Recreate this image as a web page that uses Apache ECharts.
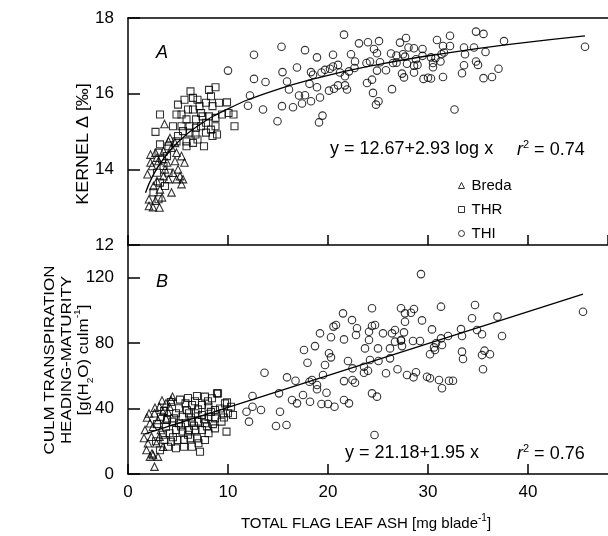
<!DOCTYPE html>
<html>
<head>
<meta charset="utf-8">
<script src="https://cdn.jsdelivr.net/npm/echarts@6/dist/echarts.min.js"></script>
<style>html,body{margin:0;padding:0;background:#fff;}#c{width:608px;height:536px;}</style>
</head>
<body>
<div id="c"></div>
<script>
// ---- data ----
var seriesNames = ['Breda', 'THR', 'THI'];
var xRange = [0, 48];
var xTicks = [0, 10, 20, 30, 40];
var yRangeA = [12, 18];
var yTicksA = [12, 14, 16, 18];
var yRangeB = [0, 140];
var yTicksB = [0, 40, 80, 120];

// Panel A: kernel Δ (‰)
var topBreda = [[3.65,15.2],[4.2,14.83],[4.35,13.39],[5.35,13.61],[2.1,13.03],[3.15,12.99],[1.95,13.87],[2.4,14.09],[2.25,14.39],[2.75,14.44],[3.55,14.48],[4.35,14.57],[4.85,14.44],[5.35,14.35],[5.65,14.18],[5.0,14.0],[4.5,13.91],[4.05,13.74],[3.55,13.82],[2.9,13.69],[2.55,13.56],[2.1,13.21],[2.75,13.17],[2.25,14.18],[3.05,14.22],[3.9,14.18],[4.7,14.22],[5.2,13.82],[4.7,14.7],[4.05,14.74],[2.9,14.31],[3.7,14.0],[3.2,13.47],[4.85,13.74],[5.5,13.74],[2.5,13.0],[3.4,13.26]];
var topTHR = [[3.2,15.45],[2.75,14.99],[6.25,16.06],[5.65,15.84],[5.0,15.71],[6.5,15.89],[6.95,15.84],[7.15,15.67],[6.0,15.58],[5.35,15.45],[4.85,15.45],[5.85,15.32],[6.8,15.32],[7.45,15.4],[8.1,16.1],[8.75,16.17],[8.3,15.93],[7.8,15.76],[8.45,15.67],[9.1,15.76],[9.9,15.77],[10.05,15.49],[10.55,15.45],[9.4,15.45],[8.75,15.36],[8.1,15.4],[7.8,15.23],[7.3,15.14],[6.8,15.1],[6.15,15.14],[5.5,15.01],[5.0,14.88],[5.85,14.74],[6.5,14.7],[6.95,14.79],[7.8,14.97],[8.3,15.05],[8.75,15.14],[8.9,14.92],[8.45,14.88],[7.6,14.61],[5.85,14.61],[10.65,15.14],[6.5,15.58],[7.3,15.49],[6.75,14.92],[6.15,14.97],[5.35,15.14],[4.5,15.14],[4.85,14.74],[3.2,14.66],[3.05,14.44],[3.4,14.26],[3.9,14.35],[3.55,14.09],[2.9,13.91],[4.05,13.91],[3.2,13.65],[2.55,13.39],[3.05,13.21],[4.05,14.61],[3.7,13.56]];
var topTHI = [[10.0,16.61],[12.6,17.03],[15.35,17.24],[12.6,16.39],[13.75,16.31],[15.45,16.57],[15.9,16.32],[16.9,16.69],[17.7,17.15],[18.9,16.96],[20.5,17.03],[21.6,17.56],[23.1,17.33],[22.3,17.04],[24.0,17.36],[25.1,17.39],[24.6,17.18],[24.9,17.07],[26.3,17.06],[26.5,16.81],[25.8,16.62],[24.9,16.61],[24.2,16.85],[23.85,16.81],[22.7,16.85],[22.65,16.68],[22.1,16.59],[21.7,16.46],[21.0,16.76],[20.5,16.72],[20.2,16.66],[19.7,16.63],[19.35,16.56],[18.3,16.57],[18.5,16.5],[18.15,16.26],[18.9,16.17],[19.2,15.9],[20.1,16.08],[20.6,16.13],[21.0,16.22],[21.7,16.22],[21.9,16.11],[24.4,16.37],[23.9,16.28],[24.5,16.02],[25.05,15.8],[24.8,15.71],[26.4,16.12],[17.1,15.95],[17.7,15.96],[18.3,15.8],[17.4,15.74],[16.5,15.64],[16.1,16.11],[15.4,15.67],[13.5,15.58],[12.0,15.68],[12.2,15.95],[14.95,15.27],[19.1,15.24],[19.45,15.42],[21.2,16.56],[25.2,16.83],
  [27.8,17.47],[27.2,17.35],[28.05,17.22],[28.6,17.2],[29.45,17.18],[30.9,17.42],[32.2,17.53],[31.5,17.26],[32.2,17.26],[34.8,17.64],[35.55,17.58],[33.6,17.22],[34.6,17.22],[37.6,17.39],[45.7,17.24],[35.75,17.1],[33.7,17.04],[31.6,17.09],[31.35,17.04],[27.5,17.04],[27.7,16.98],[26.85,17.01],[29.45,17.0],[30.3,16.96],[30.75,16.94],[28.8,16.91],[26.85,16.82],[27.9,16.79],[28.95,16.76],[28.6,16.74],[30.5,16.81],[31.25,16.85],[30.5,16.7],[33.6,16.75],[34.8,16.85],[35.0,16.76],[37.05,16.66],[28.6,16.56],[27.4,16.53],[27.6,16.43],[29.55,16.39],[30.0,16.42],[30.3,16.4],[31.5,16.44],[33.4,16.54],[35.55,16.41],[36.4,16.44],[32.65,15.58]];
var topFit = [[1.75,13.38],[2.5,13.84],[3.5,14.26],[5,14.72],[7,15.15],[10,15.6],[14,16.03],[19,16.42],[25,16.77],[32,17.08],[39,17.33],[45.7,17.53]];

// Panel B: culm transpiration heading-maturity
var botBreda = [[1.7,26.9],[2.2,31.0],[2.65,37.1],[3.15,41.1],[3.8,43.2],[4.3,45.2],[4.45,47.3],[3.0,33.0],[2.35,22.8],[1.85,14.7],[2.5,11.6],[3.0,10.6],[2.2,10.6],[2.65,4.5],[3.5,38.1],[4.0,38.1],[3.3,26.9],[2.85,18.8],[3.5,16.7],[2.0,18.8],[4.15,41.1],[2.5,28.9],[3.15,22.8],[3.8,34.0],[2.4,12.6],[1.9,34.5],[2.7,40.5],[3.4,45.0],[1.6,22.0],[2.1,37.0]];
var botTHR = [[6.9,47.7],[7.7,47.3],[8.4,46.3],[9.0,49.3],[9.7,43.2],[10.3,41.1],[10.5,36.1],[9.5,37.1],[8.7,39.1],[8.05,41.1],[7.4,42.2],[6.4,42.2],[5.75,43.2],[5.1,40.2],[4.8,37.1],[5.45,35.0],[6.1,37.1],[6.75,37.1],[7.4,36.1],[8.05,35.0],[8.7,34.0],[9.35,32.0],[8.7,27.9],[7.7,31.0],[7.05,32.0],[6.4,32.0],[5.75,31.0],[5.1,31.0],[4.45,32.0],[3.8,28.9],[4.15,24.9],[4.8,26.9],[5.45,25.9],[6.1,26.9],[6.75,26.9],[7.4,26.9],[8.05,24.9],[7.7,20.8],[6.9,21.8],[6.25,21.8],[5.6,20.8],[4.95,20.8],[4.3,19.7],[3.65,20.8],[4.0,16.7],[4.8,15.7],[5.6,16.7],[6.4,16.7],[7.05,18.8],[7.2,13.6],[9.85,25.9],[10.0,37.1],[9.9,43.8],[8.9,49.3],[3.5,24.0],[3.3,35.0],[4.3,44.0],[6.0,46.5],[2.8,20.0],[3.2,14.5],[5.3,29.0],[6.6,29.5],[7.9,29.0],[8.3,38.0],[9.2,40.0],[7.0,39.5],[5.9,39.0],[4.6,34.0],[3.9,33.0],[6.3,34.5],[7.6,33.5],[8.0,44.5],[6.7,44.5],[5.2,45.5],[3.6,38.5],[2.9,30.5],[9.6,34.5],[8.5,30.5],[4.5,22.5],[6.0,24.0]];
var botTHI = [[24.4,101.3],[21.5,98.2],[22.4,94.1],[20.8,91.1],[20.55,90.1],[22.9,89.1],[24.4,90.5],[24.7,91.1],[27.3,101.3],[19.2,86.0],[20.3,83.6],[21.6,82.3],[22.8,85.0],[24.1,87.0],[24.1,81.9],[25.5,86.0],[26.4,86.0],[26.7,88.0],[27.3,81.9],[26.7,80.9],[18.7,78.2],[17.6,75.8],[23.7,76.8],[25.0,76.8],[26.2,76.8],[20.1,73.8],[20.3,71.3],[17.95,68.0],[19.7,66.6],[22.0,69.1],[24.2,69.7],[25.05,69.1],[26.2,70.7],[22.45,64.6],[23.6,65.6],[24.0,63.1],[23.6,61.9],[25.8,61.6],[26.95,64.0],[13.65,61.9],[15.9,59.1],[16.75,57.0],[18.15,56.4],[18.4,57.5],[18.9,54.4],[19.5,60.5],[18.9,51.8],[21.6,56.8],[22.45,57.5],[22.7,55.8],[19.85,49.7],[17.5,48.3],[16.4,45.2],[16.9,43.2],[18.2,44.2],[19.35,42.8],[20.0,42.8],[20.65,41.1],[21.6,45.2],[22.1,43.2],[24.4,49.3],[24.9,47.3],[15.1,49.3],[15.2,38.1],[14.8,29.3],[15.85,30.0],[13.3,39.1],[12.45,47.7],[12.45,41.1],[11.85,38.1],[12.1,32.0],[24.65,23.8],
  [29.3,122.2],[34.7,103.3],[31.3,102.3],[28.6,100.9],[28.3,98.6],[27.7,98.2],[27.7,93.1],[29.4,93.9],[34.4,95.2],[36.95,96.2],[45.5,99.2],[27.6,86.6],[30.4,88.4],[33.3,88.6],[34.9,88.0],[35.4,85.4],[37.4,84.4],[33.4,84.4],[32.0,84.4],[31.3,82.9],[27.3,81.5],[28.5,81.3],[29.2,81.3],[27.4,78.2],[30.8,79.9],[31.4,78.9],[30.6,77.4],[30.7,75.8],[30.2,73.2],[33.4,74.8],[33.5,70.3],[35.65,75.4],[35.4,72.7],[36.2,73.2],[35.5,64.0],[27.9,60.5],[28.55,59.1],[28.8,62.2],[29.9,59.5],[30.2,58.5],[31.1,57.5],[31.4,52.4],[32.1,57.0],[32.5,57.0]];
var botFit = [[1.7,24.5],[45.5,109.9]];

// ---- chart ----
var FONT = "'Liberation Sans', Arial, sans-serif";
var chart = echarts.init(document.getElementById('c'), null, {renderer: 'canvas'});
var axisLine = {show: true, lineStyle: {color: '#000', width: 1.5}};
function xAxisCfg(grid, labels) {
  return {
    type: 'value', gridIndex: grid, min: xRange[0], max: xRange[1], interval: xTicks[1] - xTicks[0],
    position: 'bottom', axisLine: axisLine,
    axisTick: {show: true, inside: true, length: 10, lineStyle: {color: '#000', width: 1.5}},
    axisLabel: {show: labels, showMaxLabel: false, color: '#000', fontSize: 17, fontFamily: FONT, margin: 10,
      formatter: function (v) { return xTicks.indexOf(v) >= 0 ? String(v) : ''; }},
    splitLine: {show: false}
  };
}
function yAxisCfg(grid, range, ticks, showMax) {
  return {
    type: 'value', gridIndex: grid, min: range[0], max: range[1], interval: ticks[1] - ticks[0],
    axisLine: axisLine,
    axisTick: {show: true, inside: true, length: 12, lineStyle: {color: '#000', width: 1.5}},
    axisLabel: {color: '#000', fontSize: 17, fontFamily: FONT, margin: 14, showMaxLabel: showMax,
      formatter: function (v) { return ticks.indexOf(v) >= 0 ? String(v) : ''; }},
    splitLine: {show: false}
  };
}
function sc(name, sym, data, g) {
  return {
    type: 'scatter', name: name, xAxisIndex: g, yAxisIndex: g, data: data,
    symbol: sym, symbolSize: sym === 'triangle' ? 7.5 : (sym === 'circle' ? 7.5 : 7),
    itemStyle: {color: 'rgba(255,255,255,0)', borderColor: '#000', borderWidth: 1.1},
    z: 3
  };
}
function fit(data, g) {
  return {
    type: 'line', xAxisIndex: g, yAxisIndex: g, data: data, smooth: true, showSymbol: false,
    symbol: 'none', lineStyle: {color: '#000', width: 1.3}, z: 2, silent: true
  };
}
var r2rich = {
  i: {fontSize: 18, fontStyle: 'italic', fontFamily: FONT, lineHeight: 20, verticalAlign: 'bottom'},
  sup: {fontSize: 11, fontFamily: FONT, verticalAlign: 'top', lineHeight: 20},
  n: {fontSize: 18, fontFamily: FONT, lineHeight: 20, verticalAlign: 'bottom'}
};
var option = {
  backgroundColor: '#fff',
  animation: false,
  textStyle: {fontFamily: FONT},
  grid: [
    {left: 128, top: 18, width: 491, height: 227},
    {left: 128, top: 245, width: 491, height: 229}
  ],
  xAxis: [
    xAxisCfg(0, false),
    xAxisCfg(1, true),
    {type: 'value', gridIndex: 0, min: xRange[0], max: xRange[1], position: 'top',
     axisLine: axisLine, axisTick: {show: false}, axisLabel: {show: false}, splitLine: {show: false}}
  ],
  yAxis: [
    yAxisCfg(0, yRangeA, yTicksA, true),
    yAxisCfg(1, yRangeB, yTicksB, false)
  ],
  legend: {
    data: seriesNames, orient: 'vertical', left: 453, top: 172,
    itemWidth: 6, itemHeight: 6, itemGap: 7,
    textStyle: {color: '#000', fontSize: 15, fontFamily: FONT, lineHeight: 17, padding: [0, 0, 0, 2]},
    itemStyle: {color: 'rgba(255,255,255,0)', borderColor: '#000', borderWidth: 1},
    selectedMode: false
  },
  series: [
    fit(topFit, 0), fit(botFit, 1),
    sc(seriesNames[0], 'triangle', topBreda, 0),
    sc(seriesNames[1], 'rect', topTHR, 0),
    sc(seriesNames[2], 'circle', topTHI, 0),
    sc(seriesNames[0], 'triangle', botBreda, 1),
    sc(seriesNames[1], 'rect', botTHR, 1),
    sc(seriesNames[2], 'circle', botTHI, 1)
  ],
  graphic: [
    {type: 'text', x: 162, y: 53, style: {text: 'A', fontSize: 18, fontStyle: 'italic', fontFamily: FONT, fill: '#000', align: 'center', verticalAlign: 'middle'}},
    {type: 'text', x: 162, y: 282, style: {text: 'B', fontSize: 18, fontStyle: 'italic', fontFamily: FONT, fill: '#000', align: 'center', verticalAlign: 'middle'}},
    {type: 'text', x: 330, y: 149, style: {text: 'y = 12.67+2.93 log x', fontSize: 18, fontFamily: FONT, fill: '#000', align: 'left', verticalAlign: 'middle'}},
    {type: 'text', x: 517, y: 149, style: {text: '{i|r}{sup|2}{n| = 0.74}', fill: '#000', align: 'left', verticalAlign: 'middle', rich: r2rich}},
    {type: 'text', x: 345, y: 453, style: {text: 'y = 21.18+1.95 x', fontSize: 18, fontFamily: FONT, fill: '#000', align: 'left', verticalAlign: 'middle'}},
    {type: 'text', x: 517, y: 453, style: {text: '{i|r}{sup|2}{n| = 0.76}', fill: '#000', align: 'left', verticalAlign: 'middle', rich: r2rich}},
    {type: 'text', x: 366, y: 522, style: {text: '{n|TOTAL FLAG LEAF ASH [mg blade}{sup|-1}{n|]}', fill: '#000', align: 'center', verticalAlign: 'middle',
      rich: {n: {fontSize: 15, fontFamily: FONT, lineHeight: 18, verticalAlign: 'bottom'}, sup: {fontSize: 10, fontFamily: FONT, lineHeight: 18, verticalAlign: 'top'}}}},
    {type: 'text', x: 84, y: 144, rotation: Math.PI / 2, scaleX: 1.12, style: {text: 'KERNEL Δ [‰]', fontSize: 16, fontFamily: FONT, fill: '#000', align: 'center', verticalAlign: 'middle'}},
    {type: 'text', x: 67, y: 360, rotation: Math.PI / 2, scaleX: 1.13, style: {text: '{n|CULM TRANSPIRATION}\n{n|HEADING-MATURITY}\n{n|[g(H}{sub|2}{n|O) culm}{sup|-1}{n|]}', fill: '#000', align: 'center', verticalAlign: 'middle',
      rich: {n: {fontSize: 15, fontFamily: FONT, lineHeight: 17, verticalAlign: 'middle'}, sub: {fontSize: 9, fontFamily: FONT, lineHeight: 17, verticalAlign: 'bottom', padding: [0, 0, -3, 0]}, sup: {fontSize: 9, fontFamily: FONT, lineHeight: 17, verticalAlign: 'top', padding: [-2, 0, 0, 0]}}}}
  ]
};
chart.setOption(option);
</script>
</body>
</html>
